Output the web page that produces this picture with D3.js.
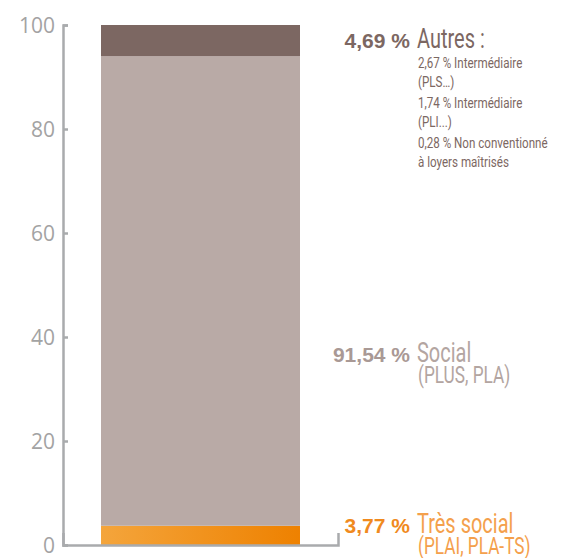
<!DOCTYPE html>
<html><head><meta charset="utf-8">
<script src="https://cdn.jsdelivr.net/npm/d3@7"></script>
<style>
html,body{margin:0;padding:0;background:#fff;}
svg{display:block;}
</style></head>
<body>
<svg id="chart" width="576" height="558"></svg>
<script>
// ---- data ----
const categories = ["Très social", "Social", "Autres"];
const barValues = [3.7, 90.3, 6.0];            // segment heights as drawn
const pctLabels = ["3,77 %", "91,54 %", "4,69 %"];
const catTitles = ["Très social", "Social", "Autres :"];
const catSubtitles = [["(PLAI, PLA-TS)"], ["(PLUS, PLA)"], []];
const autresDetails = ["2,67 % Intermédiaire", "(PLS…)", "1,74 % Intermédiaire", "(PLI...)", "0,28 % Non conventionné", "à loyers maîtrisés"];
const yTicks = [0, 20, 40, 60, 80, 100];

const svg = d3.select("#chart");
const y = d3.scaleLinear().domain([0, 100]).range([545, 25]);
const x = d3.scaleBand().domain(["bar"]).range([63, 338]).paddingInner(0).paddingOuter(0.191);

const defs = svg.append("defs");
const grad = defs.append("linearGradient").attr("id", "og").attr("x1", "0").attr("x2", "1").attr("y1", "0").attr("y2", "0");
grad.append("stop").attr("offset", "0").attr("stop-color", "#f4a53c");
grad.append("stop").attr("offset", "1").attr("stop-color", "#ee8100");

const fills = ["url(#og)", "#b9aaa6", "#7c6762"];
const pctColors = ["#f08a1e", "#a99995", "#7c6762"];
const titleColors = ["#f4a04c", "#b3a5a1", "#7c6762"];

// stacked
const stackData = [{}];
categories.forEach((c, i) => stackData[0][c] = barValues[i]);
const series = d3.stack().keys(categories)(stackData);

svg.append("g").selectAll("rect").data(series).join("rect")
  .attr("x", x("bar"))
  .attr("width", x.bandwidth())
  .attr("y", d => y(d[0][1]))
  .attr("height", d => y(d[0][0]) - y(d[0][1]))
  .attr("fill", (d, i) => fills[i]);

// y axis
const yAxis = d3.axisLeft(y).tickValues(yTicks).tickSizeInner(-5).tickSizeOuter(-5).tickPadding(8);
const gy = svg.append("g").attr("transform", "translate(63,0)").call(yAxis);
gy.selectAll("path,line").attr("stroke", "#a9abad").attr("stroke-width", 2.5);
gy.selectAll("text").attr("fill", "#a3a3a3").attr("font-family", "'Open Sans',sans-serif").attr("font-size", 21).attr("dy", "0.36em");

// bottom axis
const xb = d3.scaleLinear().domain([0, 1]).range([63, 338]);
const gx = svg.append("g").attr("transform", "translate(0,545)").call(d3.axisBottom(xb).tickValues([]).tickSizeOuter(-12));
gx.select("path").attr("stroke", "#a9abad").attr("stroke-width", 2.5).attr("fill", "none");

// condensed text helper
function cond(g, tx, ty, size, color, txt, sx) {
  g.append("text").attr("transform", `translate(${tx},${ty}) scale(${sx},1)`)
    .attr("font-family", "Roboto, 'Noto Sans', sans-serif")
    .attr("font-size", size).attr("fill", color).text(txt);
}

// labels
const labelBaselines = [533, 362, 48];
const lg = svg.append("g");
pctLabels.forEach((t, i) => {
  lg.append("text").attr("x", 410).attr("y", labelBaselines[i])
    .attr("text-anchor", "end").attr("font-family", "'Liberation Sans','Arial',sans-serif")
    .attr("font-weight", "bold").attr("font-size", 21).attr("fill", pctColors[i]).text(t);
  cond(lg, 417, labelBaselines[i], 27, titleColors[i], catTitles[i], 0.74);
  catSubtitles[i].forEach((s, j) => {
    cond(lg, 418, labelBaselines[i] + 21 * (j + 1), 23, titleColors[i], s, 0.75);
  });
});
const detailY = [68, 87, 108, 127, 148, 167];
autresDetails.forEach((s, j) => cond(lg, 418, detailY[j], 14.5, "#7c6762", s, 0.8));
</script>
</body></html>
